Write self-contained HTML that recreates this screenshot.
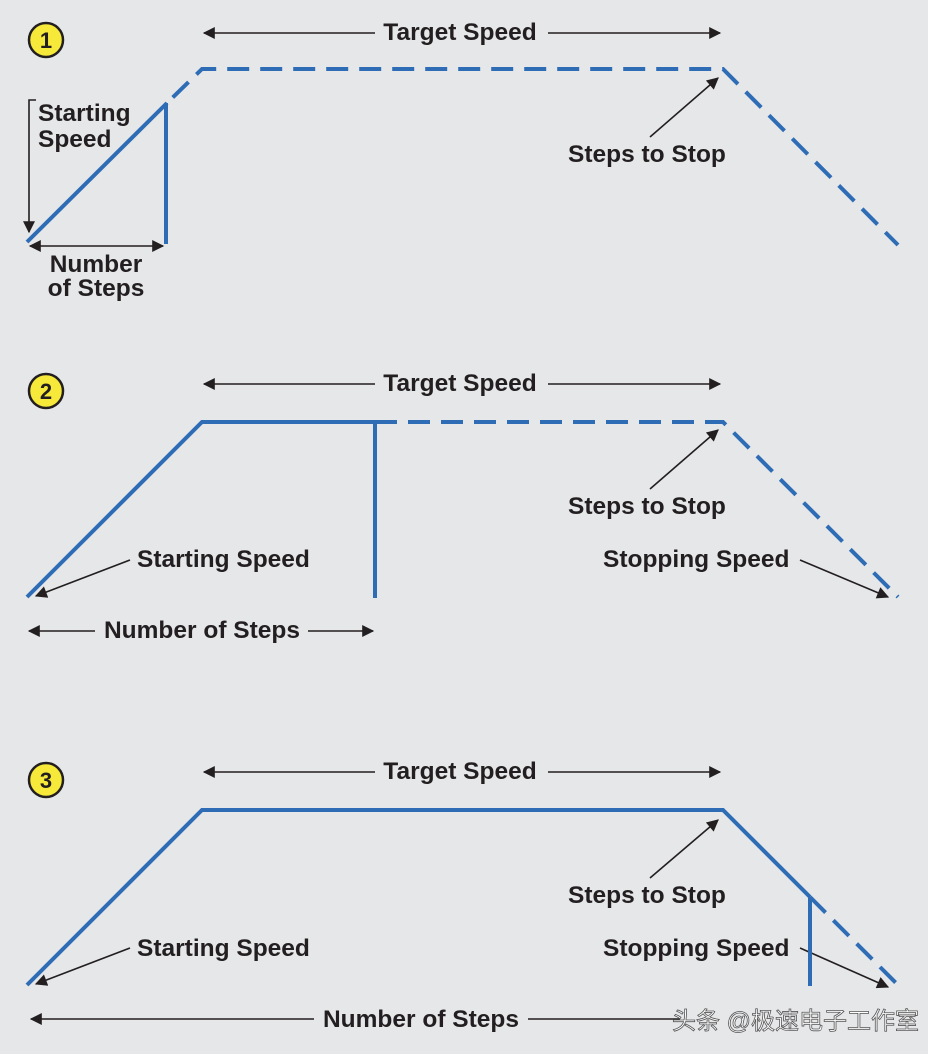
<!DOCTYPE html>
<html><head><meta charset="utf-8"><style>
html,body{margin:0;padding:0;background:#fff}
svg{display:block}
text{font-family:"Liberation Sans",Arial,sans-serif;font-weight:bold;font-size:24.5px;fill:#231f20}
</style></head><body>
<svg width="936" height="1054" viewBox="0 0 936 1054" xmlns="http://www.w3.org/2000/svg">
<defs>
<marker id="b" viewBox="0 0 10 10" refX="9" refY="5" markerWidth="14" markerHeight="12" orient="auto-start-reverse" markerUnits="userSpaceOnUse">
<path d="M0,0 L10,5 L0,10 z" fill="#231f20"/></marker>
</defs>
<rect x="0" y="0" width="928" height="1054" fill="#e6e7e9"/>
<g stroke="#231f20" stroke-width="1.6" fill="none">
<line x1="204" y1="33" x2="375" y2="33" marker-start="url(#b)"/>
<line x1="548" y1="33" x2="720" y2="33" marker-end="url(#b)"/>
<polyline points="36,100 29,100 29,232" marker-end="url(#b)"/>
<line x1="30" y1="246" x2="163" y2="246" marker-start="url(#b)" marker-end="url(#b)"/>
<line x1="650" y1="137" x2="718" y2="78" marker-end="url(#b)"/>
<line x1="204" y1="384" x2="375" y2="384" marker-start="url(#b)"/>
<line x1="548" y1="384" x2="720" y2="384" marker-end="url(#b)"/>
<line x1="130" y1="560" x2="36" y2="596" marker-end="url(#b)"/>
<line x1="29" y1="631" x2="95" y2="631" marker-start="url(#b)"/>
<line x1="308" y1="631" x2="373" y2="631" marker-end="url(#b)"/>
<line x1="650" y1="489" x2="718" y2="430" marker-end="url(#b)"/>
<line x1="800" y1="560" x2="888" y2="597" marker-end="url(#b)"/>
<line x1="204" y1="772" x2="375" y2="772" marker-start="url(#b)"/>
<line x1="548" y1="772" x2="720" y2="772" marker-end="url(#b)"/>
<line x1="130" y1="948" x2="36" y2="984" marker-end="url(#b)"/>
<line x1="31" y1="1019" x2="314" y2="1019" marker-start="url(#b)"/>
<line x1="528" y1="1019" x2="680" y2="1019"/>
<line x1="650" y1="878" x2="718" y2="820" marker-end="url(#b)"/>
<line x1="800" y1="948" x2="888" y2="987" marker-end="url(#b)"/>
</g>
<g stroke="#2e6db5" stroke-width="4" fill="none">
<line x1="27" y1="242" x2="167" y2="103"/>
<line x1="166" y1="103" x2="166" y2="244"/>
<polyline points="167,103 202,69 723,69 898,245" stroke-dasharray="22,11" stroke-dashoffset="-8"/>
<polyline points="27,597 202,422 375,422"/>
<line x1="375" y1="422" x2="375" y2="598"/>
<polyline points="375,422 723,422 898,597" stroke-dasharray="22,11"/>
<polyline points="27,985 202,810 723,810 810,897"/>
<line x1="810" y1="897" x2="810" y2="986"/>
<line x1="810" y1="897" x2="898" y2="985" stroke-dasharray="22,11"/>
</g>
<g fill="#f7e93a" stroke="#231f20" stroke-width="2.5">
<circle cx="46" cy="40" r="17"/><circle cx="46" cy="391" r="17"/><circle cx="46" cy="780" r="17"/>
</g>
<g style="font-size:22px">
<text x="46" y="48" text-anchor="middle" style="font-size:22px">1</text>
<text x="46" y="399" text-anchor="middle" style="font-size:22px">2</text>
<text x="46" y="788" text-anchor="middle" style="font-size:22px">3</text>
</g>
<text x="460" y="40" text-anchor="middle">Target Speed</text>
<text x="460" y="391" text-anchor="middle">Target Speed</text>
<text x="460" y="779" text-anchor="middle">Target Speed</text>
<text x="38" y="121">Starting</text>
<text x="38" y="147">Speed</text>
<text x="96" y="272" text-anchor="middle">Number</text>
<text x="96" y="296" text-anchor="middle">of Steps</text>
<text x="568" y="162">Steps to Stop</text>
<text x="568" y="514">Steps to Stop</text>
<text x="568" y="903">Steps to Stop</text>
<text x="137" y="567">Starting Speed</text>
<text x="137" y="956">Starting Speed</text>
<text x="603" y="567">Stopping Speed</text>
<text x="603" y="956">Stopping Speed</text>
<text x="202" y="638" text-anchor="middle">Number of Steps</text>
<text x="421" y="1027" text-anchor="middle">Number of Steps</text>
<text x="672" y="1029" style="font-family:'Liberation Sans','Noto Sans CJK SC',sans-serif;font-weight:normal;font-size:24px;fill:#fff;stroke:#555;stroke-width:0.8">头条 @极速电子工作室</text>
</svg>
</body></html>
